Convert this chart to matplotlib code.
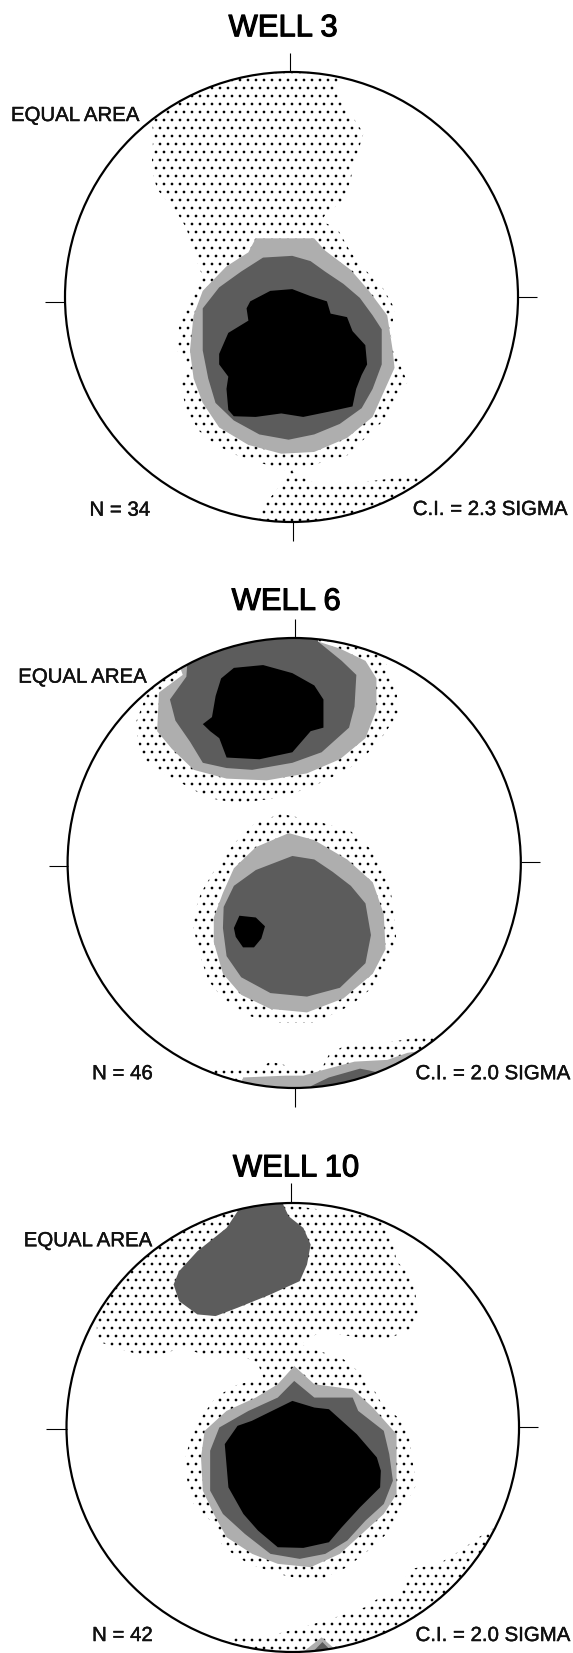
import matplotlib
matplotlib.use("Agg")
import matplotlib.pyplot as plt
from matplotlib.patches import Polygon, Ellipse
import matplotlib.patheffects as pe

plt.rcParams['font.family'] = ['Liberation Sans', 'DejaVu Sans']
plt.rcParams['hatch.linewidth'] = 0.55

W, H, DPI = 573, 1653, 144
STIPPLE, LIGHT, DARK, BLACK = 'stipple', '#aeaeae', '#5c5c5c', '#000000'

# ---- WELL 3 contours
w3_stipple = [(925,180),(925,270),(995,380),(975,450),(945,570),(895,605),(880,630),(925,655),(960,720),(1000,770),
              (1050,825),(1080,880),(1070,960),(1095,1040),(1115,1090),(1085,1140),(1050,1200),(1000,1250),(950,1300),
              (880,1320),(830,1335),(800,1345),(850,1375),(930,1385),(1040,1370),(1150,1355),(1300,1560),(690,1560),
              (705,1465),(760,1395),(790,1345),(740,1330),(650,1300),(590,1270),(545,1230),(510,1170),(495,1100),
              (515,1050),(485,1000),(490,930),(515,870),(555,790),(530,720),(510,650),(480,600),(430,540),(415,480),
              (420,380),(415,345),(380,180)]
w3_light = [(700,680),(860,680),(890,715),(960,770),(1010,830),(1060,900),(1075,1000),(1080,1050),(1050,1120),
            (1020,1190),(950,1250),(860,1290),(770,1295),(680,1270),(600,1220),(555,1150),(530,1080),(520,1000),
            (530,900),(555,830),(620,760),(680,720)]
w3_dark = [(720,735),(800,730),(850,745),(890,775),(940,810),(985,850),(1020,900),(1045,940),(1045,1040),(1020,1110),
           (990,1165),(930,1210),(860,1240),(790,1255),(710,1240),(640,1200),(590,1150),(570,1080),(555,1000),
           (555,880),(600,820),(660,775)]
w3_black = [(685,860),(740,830),(800,825),(850,845),(895,860),(905,895),(950,905),(965,945),(1000,985),(1005,1040),
            (990,1070),(975,1110),(965,1160),(900,1175),(830,1190),(770,1180),(700,1190),(640,1188),(625,1170),(620,1110),
            (625,1075),(600,1040),(600,1010),(625,950),(680,915),(675,880)]

# ---- WELL 6 contours
w6_upper_stipple = [(1045,180),(1045,240),(1085,340),(1090,410),(1050,470),(1000,530),(950,570),(850,620),(760,650),
                    (650,665),(570,650),(500,610),(430,570),(385,530),(370,440),(405,345),(350,180)]
w6_upper_light = [(870,150),(870,205),(930,225),(1000,260),(1030,310),(1030,400),(1000,480),(930,540),(840,580),
                  (730,600),(620,595),(530,570),(470,510),(430,460),(435,350),(500,300),(450,150)]
w6_upper_dark = [(870,150),(870,205),(935,260),(975,300),(970,390),(955,450),(880,520),(800,550),(690,570),(620,565),
                 (555,550),(520,490),(480,430),(465,370),(510,305),(520,150)]
w6_upper_black = [(640,280),(720,272),(800,295),(860,330),(885,370),(885,450),(850,460),(800,520),(710,540),(620,535),
                  (600,480),(575,460),(555,440),(580,420),(590,360),(605,310)]
w6_lower_stipple = [(770,695),(880,720),(960,745),(1030,810),(1060,870),(1075,950),(1085,1060),(1065,1110),(1030,1180),
                    (960,1240),(860,1290),(760,1290),(680,1270),(610,1220),(570,1170),(545,1090),(525,1000),(550,920),
                    (590,850),(640,780),(700,720)]
w6_lower_light = [(790,750),(860,770),(950,825),(1020,890),(1050,980),(1055,1080),(1020,1150),(940,1220),(840,1260),
                  (740,1250),(660,1210),(610,1150),(585,1060),(585,990),(610,920),(640,850),(700,790)]
w6_lower_dark = [(800,815),(860,825),(910,860),(960,900),(1000,950),(1015,1040),(1000,1120),(930,1190),(840,1215),
                 (740,1205),(660,1160),(620,1100),(610,1020),(612,960),(640,900),(700,855)]
w6_lower_black = [(655,985),(700,990),(725,1015),(715,1050),(695,1075),(665,1075),(645,1045),(640,1020)]
w6_rim_stipple = [(570,1420),(700,1425),(740,1400),(800,1415),(880,1420),(900,1380),(950,1350),(1060,1345),(1190,1325),
                  (1300,1560),(500,1560)]
w6_rim_light = [(665,1445),(780,1440),(830,1440),(880,1425),(970,1400),(1060,1395),(1115,1375),(1150,1370),(1250,1560),(650,1560)]
w6_rim_dark = [(850,1470),(900,1445),(985,1420),(1010,1425),(1030,1430),(1100,1560),(850,1560)]

# ---- WELL 10 contours
w10_upper_stipple = [(780,100),(780,190),(1040,230),(1075,300),(1085,360),(1130,410),(1145,520),(1130,560),(1050,600),
                     (980,590),(880,570),(820,610),(940,655),(990,700),(1025,750),(1045,790),(1100,840),(1120,890),
                     (1130,970),(1140,1030),(1105,1100),(1075,1160),(1030,1210),(950,1280),(860,1325),(760,1300),
                     (680,1270),(610,1220),(585,1150),(530,1090),(515,1040),(505,960),(530,860),(590,770),(640,735),
                     (720,710),(705,665),(650,640),(580,650),(500,620),(410,650),(330,625),(265,600),(265,530),(200,100)]
w10_blob_dark = [(650,150),(650,210),(620,260),(540,330),(490,390),(475,430),(490,480),(540,520),(590,525),(650,500),
                 (740,460),(820,420),(840,370),(850,310),(830,260),(790,225),(775,190),(775,150)]
w10_light = [(805,675),(860,730),(965,745),(1020,800),(1085,880),(1085,990),(1085,1060),(1050,1120),(1000,1170),
             (930,1240),(850,1280),(760,1270),(690,1240),(620,1190),(585,1120),(555,1050),(550,950),(560,870),
             (620,810),(700,770),(760,730)]
w10_dark = [(805,720),(860,770),(965,770),(980,810),(1050,870),(1065,940),(1075,1020),(1050,1090),(1000,1140),
            (950,1200),(890,1240),(820,1255),(740,1240),(670,1180),(610,1120),(575,1050),(575,930),(600,860),
            (680,810),(760,770)]
w10_black = [(800,780),(860,800),(900,805),(976,880),(1031,950),(1042,990),(1040,1040),(985,1100),(935,1160),(900,1205),
             (830,1222),(760,1220),(706,1170),(666,1120),(625,1040),(615,910),(650,855),(689,840)]
w10_rim_stipple = [(1355,1160),(1310,1190),(1260,1230),(1200,1270),(1125,1285),(1110,1310),(1090,1370),(1040,1370),
                   (1000,1400),(920,1430),(830,1460),(760,1480),(630,1495),(600,1600),(1500,1600),(1500,1160)]
w10_rim_light = [(829,1535),(880,1491),(925,1535),(880,1560)]
w10_rim_dark = [(860,1530),(882,1505),(905,1530),(880,1560)]

# ---- panel definitions
panels = [
    dict(title='WELL 3', n='N = 34', ci='C.I. = 2.3 SIGMA',
         box=(65, 72, 518, 522), lim=(178, 1418, 205, 1490),
         title_xy=(775, 103), ea_xy=(30, 345), n_xy=(245, 1472), ci_xy=(1130, 1470),
         top=(795, 150, 205), bottom=(802, 1490, 1545), left=(862, 123, 178), right=(847, 1418, 1470),
         layers=[(w3_stipple, STIPPLE), (w3_light, LIGHT), (w3_dark, DARK), (w3_black, BLACK)]),
    dict(title='WELL 6', n='N = 46', ci='C.I. = 2.0 SIGMA',
         box=(67.6, 638, 520.8, 1088), lim=(185, 1425, 195, 1475),
         title_xy=(783, 115), ea_xy=(50, 322), n_xy=(252, 1450), ci_xy=(1137, 1450),
         top=(806, 140, 195), bottom=(806, 1475, 1530), left=(843, 133, 185), right=(833, 1425, 1478),
         layers=[(w6_upper_stipple, STIPPLE), (w6_lower_stipple, STIPPLE), (w6_rim_stipple, STIPPLE),
                 (w6_upper_light, LIGHT), (w6_lower_light, LIGHT), (w6_rim_light, LIGHT),
                 (w6_upper_dark, DARK), (w6_lower_dark, DARK), (w6_rim_dark, DARK),
                 (w6_upper_black, BLACK), (w6_lower_black, BLACK)]),
    dict(title='WELL 10', n='N = 42', ci='C.I. = 2.0 SIGMA',
         box=(66.5, 1203, 519, 1652), lim=(182, 1420, 185, 1535),
         title_xy=(810, 105), ea_xy=(65, 315), n_xy=(252, 1502), ci_xy=(1137, 1502),
         top=(797, 125, 185), bottom=None, left=(865, 127, 182), right=(857, 1420, 1472),
         layers=[(w10_upper_stipple, STIPPLE), (w10_rim_stipple, STIPPLE), (w10_light, LIGHT), (w10_rim_light, LIGHT),
                 (w10_blob_dark, DARK), (w10_dark, DARK), (w10_rim_dark, DARK), (w10_black, BLACK)]),
]

fig = plt.figure(figsize=((W + 0.01) / DPI, (H + 0.01) / DPI), dpi=DPI, facecolor='white')

heavy_title = [pe.withStroke(linewidth=0.55, foreground='black')]
heavy_label = [pe.withStroke(linewidth=0.2, foreground='black')]

for p in panels:
    x0, y0, x1, y1 = p['box']
    xl, xr, yt, yb = p['lim']
    ax = fig.add_axes([x0 / W, 1 - y1 / H, (x1 - x0) / W, (y1 - y0) / H])
    ax.set_xlim(xl, xr)
    ax.set_ylim(yb, yt)
    ax.axis('off')

    rim = Ellipse(((xl + xr) / 2, (yt + yb) / 2), xr - xl, yb - yt, facecolor='none',
                  edgecolor='black', linewidth=1.1, zorder=20, clip_on=False)
    ax.add_patch(rim)

    for i, (pts, style) in enumerate(p['layers']):
        if style == STIPPLE:
            patch = Polygon(pts, closed=True, facecolor='none', edgecolor='black',
                            hatch='...', linewidth=0, zorder=2)
        else:
            patch = Polygon(pts, closed=True, facecolor=style, edgecolor='none',
                            linewidth=0, zorder=3 + i)
        ax.add_patch(patch)
        patch.set_clip_path(rim)

    tick = dict(color='black', linewidth=0.55, clip_on=False, solid_capstyle='butt', zorder=21)
    x, a, b = p['top']
    ax.plot([x, x], [a, b], **tick)
    if p['bottom']:
        x, a, b = p['bottom']
        ax.plot([x, x], [a, b], **tick)
    y, a, b = p['left']
    ax.plot([a, b], [y, y], **tick)
    y, a, b = p['right']
    ax.plot([a, b], [y, y], **tick)

    ax.text(*p['title_xy'], p['title'], fontsize=15.5, ha='center', va='baseline', color='black',
            path_effects=heavy_title)
    for xy, label in ((p['ea_xy'], 'EQUAL AREA'), (p['n_xy'], p['n']), (p['ci_xy'], p['ci'])):
        ax.text(*xy, label, fontsize=10.2, ha='left', va='baseline', color='#111111', path_effects=heavy_label)

fig.savefig('out.png', dpi=DPI, facecolor='white')
